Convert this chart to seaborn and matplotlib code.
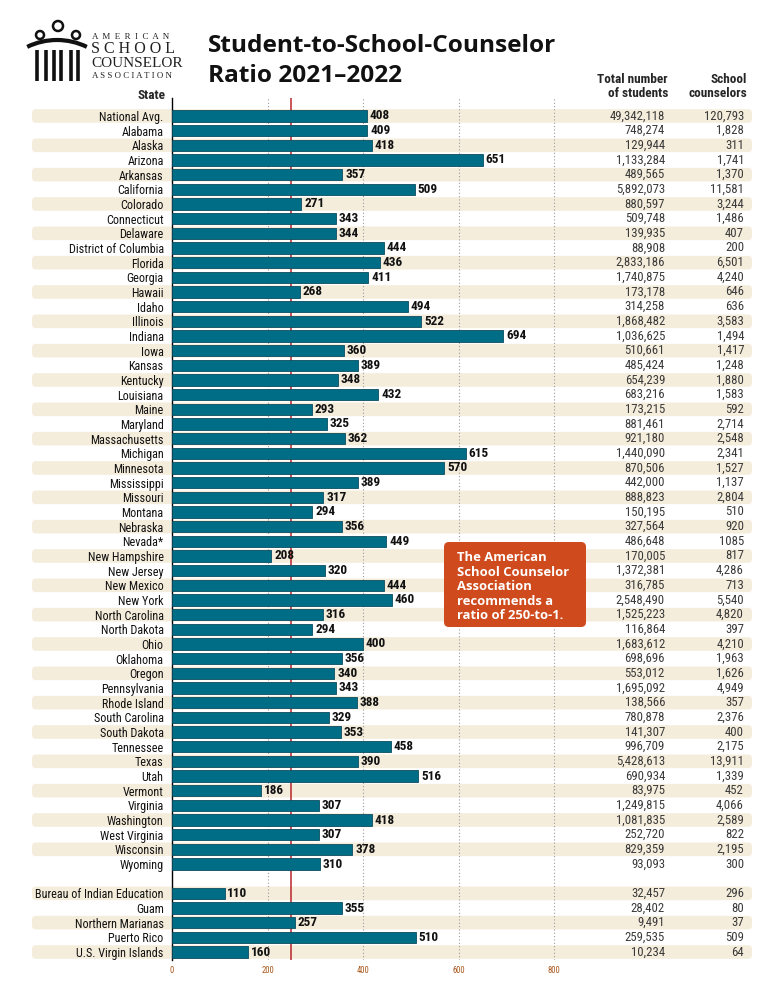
import matplotlib
matplotlib.use('Agg')
import matplotlib.pyplot as plt
import seaborn as sns
import pandas as pd
from matplotlib import transforms
from matplotlib.patches import FancyBboxPatch, Circle, Arc

states = ['National Avg.', 'Alabama', 'Alaska', 'Arizona', 'Arkansas', 'California', 'Colorado',
          'Connecticut', 'Delaware', 'District of Columbia', 'Florida', 'Georgia', 'Hawaii', 'Idaho',
          'Illinois', 'Indiana', 'Iowa', 'Kansas', 'Kentucky', 'Louisiana', 'Maine', 'Maryland',
          'Massachusetts', 'Michigan', 'Minnesota', 'Mississippi', 'Missouri', 'Montana', 'Nebraska',
          'Nevada*', 'New Hampshire', 'New Jersey', 'New Mexico', 'New York', 'North Carolina',
          'North Dakota', 'Ohio', 'Oklahoma', 'Oregon', 'Pennsylvania', 'Rhode Island',
          'South Carolina', 'South Dakota', 'Tennessee', 'Texas', 'Utah', 'Vermont', 'Virginia',
          'Washington', 'West Virginia', 'Wisconsin', 'Wyoming']
state_ratios = [408, 409, 418, 651, 357, 509, 271, 343, 344, 444, 436, 411, 268, 494, 522, 694,
                360, 389, 348, 432, 293, 325, 362, 615, 570, 389, 317, 294, 356, 449, 208, 320,
                444, 460, 316, 294, 400, 356, 340, 343, 388, 329, 353, 458, 390, 516, 186, 307,
                418, 307, 378, 310]
state_students = ['49,342,118', '748,274', '129,944', '1,133,284', '489,565', '5,892,073', '880,597',
                  '509,748', '139,935', '88,908', '2,833,186', '1,740,875', '173,178', '314,258',
                  '1,868,482', '1,036,625', '510,661', '485,424', '654,239', '683,216', '173,215',
                  '881,461', '921,180', '1,440,090', '870,506', '442,000', '888,823', '150,195',
                  '327,564', '486,648', '170,005', '1,372,381', '316,785', '2,548,490', '1,525,223',
                  '116,864', '1,683,612', '698,696', '553,012', '1,695,092', '138,566', '780,878',
                  '141,307', '996,709', '5,428,613', '690,934', '83,975', '1,249,815', '1,081,835',
                  '252,720', '829,359', '93,093']
state_counselors = ['120,793', '1,828', '311', '1,741', '1,370', '11,581', '3,244', '1,486', '407',
                    '200', '6,501', '4,240', '646', '636', '3,583', '1,494', '1,417', '1,248',
                    '1,880', '1,583', '592', '2,714', '2,548', '2,341', '1,527', '1,137', '2,804',
                    '510', '920', '1085', '817', '4,286', '713', '5,540', '4,820', '397', '4,210',
                    '1,963', '1,626', '4,949', '357', '2,376', '400', '2,175', '13,911', '1,339',
                    '452', '4,066', '2,589', '822', '2,195', '300']

territories = ['Bureau of Indian Education', 'Guam', 'Northern Marianas', 'Puerto Rico',
               'U.S. Virgin Islands']
terr_ratios = [110, 355, 257, 510, 160]
terr_students = ['32,457', '28,402', '9,491', '259,535', '10,234']
terr_counselors = ['296', '80', '37', '509', '64']

x_ticks = [0, 200, 400, 600, 800]
recommended = 250

W, H = 772, 982
BAR = '#006d86'
STRIPE = '#f5eddc'

sns.set_style('white')
plt.rcParams['font.family'] = ['Roboto Condensed', 'Lato', 'DejaVu Sans']

# row positions: states, one empty row, then territories
pos = list(range(len(states))) + [len(states) + 1 + i for i in range(len(territories))]
striped = [i % 2 == 0 for i in range(len(states))] + [i % 2 == 0 for i in range(len(territories))]
df = pd.DataFrame({
    'label': states + territories,
    'ratio': state_ratios + terr_ratios,
    'students': state_students + terr_students,
    'counselors': state_counselors + terr_counselors,
    'pos': pos,
    'striped': striped,
})

fig = plt.figure(figsize=(W / 100, H / 100), dpi=100)
bg = fig.add_axes([0, 0, 1, 1], zorder=0)
bg.set_xlim(0, W)
bg.set_ylim(H, 0)
bg.axis('off')

ax_top, ax_bot = 98, 960
ax = fig.add_axes([172 / W, 1 - ax_bot / H, 580 / W, (ax_bot - ax_top) / H], zorder=1)
ax.set_facecolor('none')

sns.barplot(data=df, x='ratio', y='pos', orient='h', native_scale=True, color=BAR,
            saturation=1, edgecolor='#0b4c60', linewidth=0.6, width=0.76, ax=ax, zorder=3)

row_px = 14.67
ax.set_ylim(pos[-1] + (ax_bot - 952) / row_px, -(116 - ax_top) / row_px)
ax.set_xlim(0, 580 / 0.4775)
ax.set_yticks(df['pos'], df['label'])
ax.set_xticks(x_ticks)
ax.set_xlabel('')
ax.set_ylabel('')
for s in ['top', 'right', 'bottom']:
    ax.spines[s].set_visible(False)
ax.spines['left'].set_color('black')
ax.spines['left'].set_linewidth(1.0)
ax.tick_params(axis='y', length=0, pad=6, labelsize=8.7, labelcolor='#111111')
ax.tick_params(axis='x', length=0, pad=4, labelsize=6.2, labelcolor='#a9581c')

for v in x_ticks[1:]:
    ax.axvline(v, color='#9a9a9a', lw=0.8, ls=(0, (1, 2)), zorder=1)
ax.axvline(recommended, color='#b8262b', lw=1.1, zorder=2)

ax.bar_label(ax.containers[0], labels=[str(v) for v in df['ratio']], padding=2,
             fontsize=9.5, fontweight='bold', color='#111111')

# table columns
tr = transforms.blended_transform_factory(fig.transFigure, ax.transData)
for _, r in df.iterrows():
    ax.text(665 / W, r['pos'], r['students'], transform=tr, ha='right', va='center',
            fontsize=9.2, color='#3a3a3a', clip_on=False)
    ax.text(744 / W, r['pos'], r['counselors'], transform=tr, ha='right', va='center',
            fontsize=9.2, color='#3a3a3a', clip_on=False)

# striped row backgrounds
for _, r in df[df['striped']].iterrows():
    y = H - ax.transData.transform((0, r['pos']))[1]
    bg.add_patch(FancyBboxPatch((32, y - 6.8), 720, 13.6,
                                boxstyle='round,pad=0,rounding_size=4', fc=STRIPE, ec='none'))

# overlay for title, headers, logo, callout
ov = fig.add_axes([0, 0, 1, 1], zorder=2)
ov.set_xlim(0, W)
ov.set_ylim(H, 0)
ov.axis('off')
ov.patch.set_alpha(0)

title_font = ['Open Sans', 'DejaVu Sans']
ov.text(208, 52, 'Student-to-School-Counselor', fontsize=17.6, fontweight='bold',
        family=title_font, va='baseline', color='#111111')
ov.text(208, 82, 'Ratio 2021\u20132022', fontsize=17.6, fontweight='bold',
        family=title_font, va='baseline', color='#111111')

hs = 9.5
ov.text(165, 99, 'State', ha='right', va='baseline', fontsize=hs, fontweight='bold')
ov.text(668, 83, 'Total number', ha='right', va='baseline', fontsize=hs, fontweight='bold')
ov.text(668, 97, 'of students', ha='right', va='baseline', fontsize=hs, fontweight='bold')
ov.text(747, 83, 'School', ha='right', va='baseline', fontsize=hs, fontweight='bold')
ov.text(747, 97, 'counselors', ha='right', va='baseline', fontsize=hs, fontweight='bold')

# logo
for cx, cy, rr in [(40, 35, 4), (58, 26, 5), (76, 35, 4)]:
    ov.add_patch(Circle((cx, cy), rr, fill=False, ec='#111111', lw=1.8))
ov.add_patch(Arc((57, 108), 136, 136, theta1=244, theta2=296, ec='#111111', lw=3))
for bx in [37, 46, 54, 61, 71, 78]:
    ov.plot([bx, bx], [50, 81], color='#111111', lw=2.6, solid_capstyle='butt')
serif = ['Liberation Serif', 'DejaVu Serif']
ov.text(92, 39, 'A  M  E  R  I  C  A  N', fontsize=6.4, family=serif, va='baseline', color='#222222')
ov.text(91, 53, 'S C H O O L', fontsize=11.5, family=serif, va='baseline', color='#222222')
ov.text(91, 67, 'COUNSELOR', fontsize=11, family=serif, va='baseline', color='#222222')
ov.text(92, 78, 'A S S O C I A T I O N', fontsize=6.4, family=serif, va='baseline', color='#222222')

# callout
ov.add_patch(FancyBboxPatch((444, 542), 142, 85, boxstyle='round,pad=0,rounding_size=5',
                            fc='#cf4a1c', ec='none'))
ov.text(457, 551, 'The American\nSchool Counselor\nAssociation\nrecommends a\nratio of 250-to-1.',
        ha='left', va='top', fontsize=9.4, fontweight='bold', color='white', linespacing=1.16,
        family=title_font)

plt.savefig('out.png', dpi=100)
plt.close()
